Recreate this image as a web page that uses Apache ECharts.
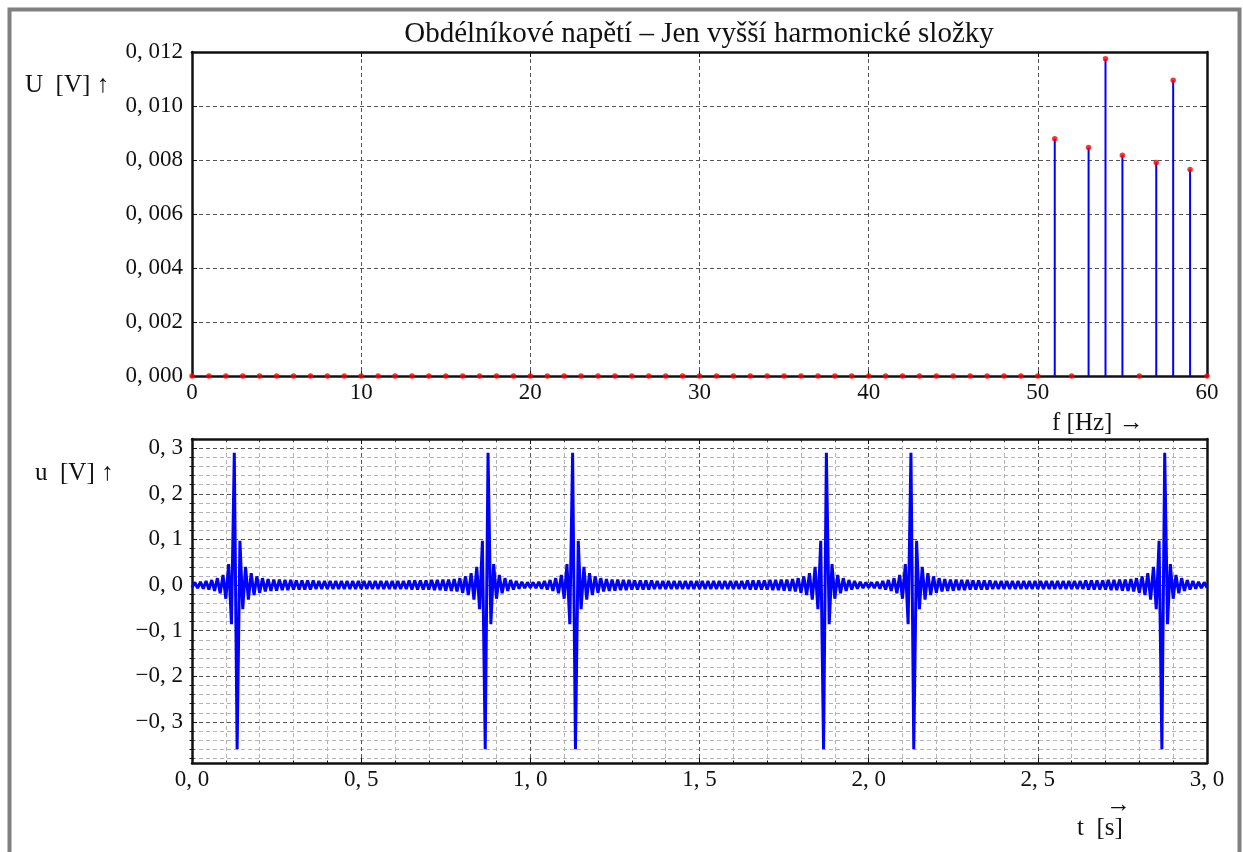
<!DOCTYPE html>
<html>
<head>
<meta charset="utf-8">
<title>Obdélníkové napětí – Jen vyšší harmonické složky</title>
<script src="https://cdn.jsdelivr.net/npm/echarts@6/dist/echarts.min.js"></script>
<style>
  html, body { margin: 0; padding: 0; background: #fff; }
  #chart { width: 1243px; height: 852px; }
</style>
</head>
<body>
<div id="chart"></div>
<script>
// horni graf - spektrum, f = 0..60 Hz
const freqHz = [
  0, 1, 2, 3, 4, 5, 6, 7, 8, 9, 10, 11, 12, 13, 14, 15, 16, 17, 18, 19,
  20, 21, 22, 23, 24, 25, 26, 27, 28, 29, 30, 31, 32, 33, 34, 35, 36, 37, 38, 39,
  40, 41, 42, 43, 44, 45, 46, 47, 48, 49, 50, 51, 52, 53, 54, 55, 56, 57, 58, 59, 60
]
const amplitudeU = [
  0, 0, 0, 0, 0, 0, 0, 0, 0, 0, 0, 0, 0, 0, 0, 0, 0, 0, 0, 0,
  0, 0, 0, 0, 0, 0, 0, 0, 0, 0, 0, 0, 0, 0, 0, 0, 0, 0, 0, 0,
  0, 0, 0, 0, 0, 0, 0, 0, 0, 0, 0, 0.00879, 0, 0.00846, 0.01175, 0.00818, 0, 0.00791, 0.01095, 0.00765, 0
]

// dolni graf - casovy prubeh, vzorky po 1/120 s, prvni polovina periody (n = 0..60)
const sampleRate = 120
const periods = 3
const halfPeriodU = [
  -0.006, 0.006, -0.007, 0.007, -0.008, 0.009, -0.010, 0.011, -0.013, 0.015,
  -0.018, 0.022, -0.030, 0.046, -0.086, 0.290, -0.360, 0.097, -0.053, 0.040,
  -0.032, 0.026, -0.022, 0.019, -0.017, 0.015, -0.014, 0.013, -0.013, 0.012,
  -0.012, 0.012, -0.011, 0.011, -0.011, 0.011, -0.010, 0.010, -0.010, 0.010,
  -0.010, 0.010, -0.010, 0.010, -0.009, 0.009, -0.009, 0.009, -0.009, 0.009,
  -0.009, 0.009, -0.009, 0.009, -0.009, 0.009, -0.009, 0.009, -0.009, 0.009, -0.009
]

// popisky os
const uMajorTicks = [-0.3, -0.2, -0.1, 0, 0.1, 0.2, 0.3]
const uMinorTicks = [
  -0.38, -0.36, -0.34, -0.32, -0.28, -0.26, -0.24, -0.22, -0.18, -0.16, -0.14, -0.12,
  -0.08, -0.06, -0.04, -0.02, 0.02, 0.04, 0.06, 0.08, 0.12, 0.14, 0.16, 0.18,
  0.22, 0.24, 0.26, 0.28
]

// perioda je soumerna kolem 0,5 s
const periodU = halfPeriodU.concat(halfPeriodU.slice(1, 60).reverse())
const signal = []
for (let n = 0; n <= periods * sampleRate; n++) {
  signal.push([n / sampleRate, periodU[n % periodU.length]])
}
const stems = freqHz.map((f, i) => [f, amplitudeU[i]]).filter(d => d[1] > 0)
const markers = freqHz.map((f, i) => [f, amplitudeU[i]])

const serif = 'Liberation Serif'
const tickFont = { fontFamily: serif, fontSize: 23, color: '#111' }
const frame = { show: true, onZero: false, lineStyle: { color: '#111', width: 2.5 } }
const majorGrid = { show: true, lineStyle: { color: '#555', width: 1, type: [4, 3] } }
const minorGrid = { show: true, lineStyle: { color: '#b4b4b4', width: 1, type: [4, 3] } }
const tickIn = { show: true, inside: true, length: 5, lineStyle: { color: '#111', width: 1 } }
const minorTickIn = { show: true, splitNumber: 5, length: 2.5, lineStyle: { color: '#111', width: 1 } }
const nameFont = '25px "Liberation Serif"'

function comma(v, digits) {
  return v.toFixed(digits).replace('-', '\u2212').replace('.', ', ')
}

const option = {
  animation: false,
  backgroundColor: '#fff',
  title: {
    text: 'Obdélníkové napětí – Jen vyšší harmonické složky',
    left: 699,
    top: 20,
    textAlign: 'center',
    padding: 0,
    textStyle: { fontFamily: serif, fontSize: 29, fontWeight: 'normal', color: '#111' }
  },
  grid: [
    { left: 192, top: 52, width: 1015, height: 324 },
    { left: 192, top: 439, width: 1015, height: 324 }
  ],
  xAxis: [
    {
      type: 'value', gridIndex: 0, position: 'bottom', min: 0, max: 60, interval: 10,
      axisLine: frame, axisTick: tickIn,
      axisLabel: { ...tickFont, margin: 5, formatter: v => String(v) },
      splitLine: majorGrid
    },
    {
      type: 'value', gridIndex: 0, position: 'top', min: 0, max: 60, interval: 10,
      axisLine: frame, axisTick: tickIn, axisLabel: { show: false }, splitLine: { show: false }
    },
    {
      type: 'value', gridIndex: 1, position: 'bottom', min: 0, max: 3, interval: 0.5,
      axisLine: frame, axisTick: tickIn, minorTick: minorTickIn,
      axisLabel: { ...tickFont, margin: 5, formatter: v => comma(v, 1) },
      splitLine: majorGrid, minorSplitLine: minorGrid
    },
    {
      type: 'value', gridIndex: 1, position: 'top', min: 0, max: 3, interval: 0.5,
      axisLine: frame, axisTick: tickIn, minorTick: minorTickIn,
      axisLabel: { show: false }, splitLine: { show: false }
    }
  ],
  yAxis: [
    {
      type: 'value', gridIndex: 0, position: 'left', min: 0, max: 0.012, interval: 0.002,
      axisLine: frame, axisTick: tickIn,
      axisLabel: { ...tickFont, margin: 9, formatter: v => comma(v, 3) },
      splitLine: majorGrid
    },
    {
      type: 'value', gridIndex: 0, position: 'right', min: 0, max: 0.012, interval: 0.002,
      axisLine: frame, axisTick: tickIn, axisLabel: { show: false }, splitLine: { show: false }
    },
    {
      type: 'value', gridIndex: 1, position: 'left', min: -0.39, max: 0.32, offset: 0,
      axisLine: frame, axisTick: { ...tickIn, customValues: uMajorTicks },
      axisLabel: { ...tickFont, margin: 9, customValues: uMajorTicks, formatter: v => comma(v, 1) },
      splitLine: majorGrid
    },
    {
      type: 'value', gridIndex: 1, position: 'left', min: -0.39, max: 0.32, offset: 0,
      axisLine: { show: false }, axisTick: { ...tickIn, length: 2.5, customValues: uMinorTicks },
      axisLabel: { show: false }, splitLine: minorGrid
    },
    {
      type: 'value', gridIndex: 1, position: 'right', min: -0.39, max: 0.32, offset: 0,
      axisLine: frame, axisTick: { ...tickIn, customValues: uMajorTicks },
      axisLabel: { show: false }, splitLine: { show: false }
    },
    {
      type: 'value', gridIndex: 1, position: 'right', min: -0.39, max: 0.32, offset: 0,
      axisLine: { show: false }, axisTick: { ...tickIn, length: 2.5, customValues: uMinorTicks },
      axisLabel: { show: false }, splitLine: { show: false }
    }
  ],
  series: [
    {
      name: 'stems', type: 'bar', xAxisIndex: 0, yAxisIndex: 0,
      data: stems, barWidth: 2, itemStyle: { color: '#0000ff' }, z: 3
    },
    {
      name: 'markers', type: 'scatter', xAxisIndex: 0, yAxisIndex: 0,
      data: markers, symbol: 'circle', symbolSize: 5.5, itemStyle: { color: '#ff0000' }, z: 4
    },
    {
      name: 'u', type: 'line', xAxisIndex: 2, yAxisIndex: 2,
      data: signal, showSymbol: false, symbol: 'none', sampling: null,
      lineStyle: { color: '#0000ff', width: 3 }, z: 3
    }
  ],
  graphic: [
    {
      type: 'rect', silent: true,
      shape: { x: 9.5, y: 9.5, width: 1230, height: 900 },
      style: { fill: null, stroke: '#808080', lineWidth: 4 }
    },
    { type: 'text', x: 25, y: 85, style: { text: 'U  [V] ↑', font: nameFont, fill: '#111', textVerticalAlign: 'middle' } },
    { type: 'text', x: 1052, y: 423, style: { text: 'f [Hz] →', font: nameFont, fill: '#111', textVerticalAlign: 'middle' } },
    { type: 'text', x: 35, y: 473, style: { text: 'u  [V] ↑', font: nameFont, fill: '#111', textVerticalAlign: 'middle' } },
    { type: 'text', x: 1077, y: 828, style: { text: 't  [s]', font: nameFont, fill: '#111', textVerticalAlign: 'middle' } },
    { type: 'text', x: 1106, y: 805, style: { text: '→', font: nameFont, fill: '#111', textVerticalAlign: 'middle' } }
  ]
}

const myChart = echarts.init(document.getElementById('chart'), null, { renderer: 'canvas' })
myChart.setOption(option)
</script>
</body>
</html>
